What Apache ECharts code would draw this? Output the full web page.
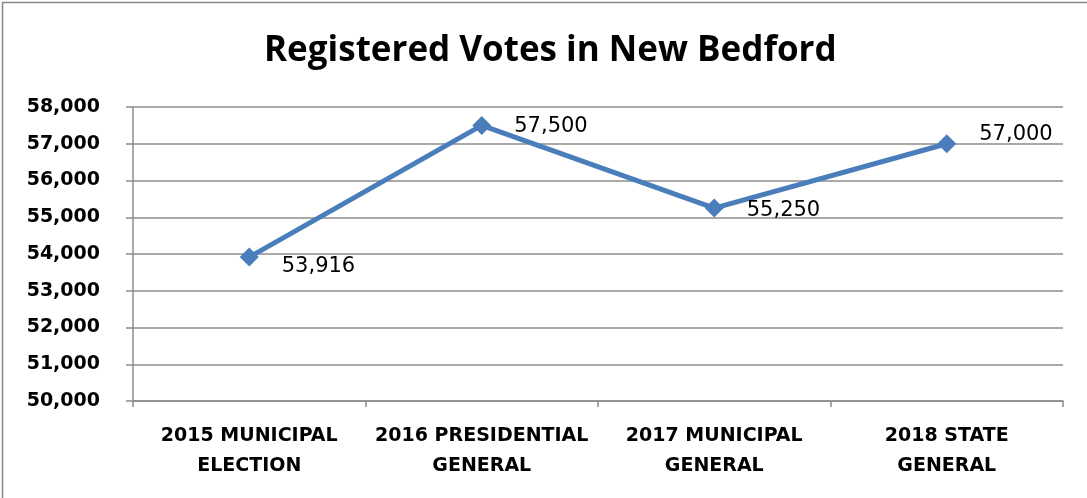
<!DOCTYPE html>
<html>
<head>
<meta charset="utf-8">
<script src="https://cdn.jsdelivr.net/npm/echarts@6/dist/echarts.min.js"></script>
<style>
  html, body { margin: 0; padding: 0; background: #fff; }
  #chart { width: 1087px; height: 498px; }
</style>
</head>
<body>
<div id="chart"></div>
<script>
// Registered voters per election
const categories = [
  '2015 MUNICIPAL\nELECTION',
  '2016 PRESIDENTIAL\nGENERAL',
  '2017 MUNICIPAL\nGENERAL',
  '2018 STATE\nGENERAL'
];
const registered = [53916, 57500, 55250, 57000];
const yTicks = { min: 50000, max: 58000, step: 1000 };

// label nudges (dx, dy) per point, in pixels
const labelNudges = [[0, 9], [0, 1], [0, 2], [0, -9]];

const titleFont = '"Open Sans", Lato, sans-serif';
const axisFont = '"DejaVu Sans", "Open Sans", sans-serif';
const axisGray = '#8c8c8c';

const chart = echarts.init(document.getElementById('chart'), null, { renderer: 'canvas' });

chart.setOption({
  backgroundColor: '#ffffff',
  animation: false,
  title: {
    text: 'Registered Votes in New Bedford',
    left: 259,
    top: 29,
    textStyle: { fontFamily: titleFont, fontWeight: 'bold', fontSize: 35, color: '#000' }
  },
  graphic: [{
    type: 'polyline',
    shape: { points: [[2.5, 498], [2.5, 2.5], [1087, 2.5]] },
    style: { stroke: '#878787', lineWidth: 1.5, fill: null },
    silent: true
  }],
  grid: { left: 133, right: 24, top: 107, bottom: 97, containLabel: false },
  xAxis: {
    type: 'category',
    data: categories,
    boundaryGap: true,
    axisLine: { show: true, lineStyle: { color: axisGray, width: 1.5 } },
    axisTick: { show: true, length: 6, lineStyle: { color: axisGray, width: 1.5 } },
    axisLabel: {
      fontFamily: axisFont, fontWeight: 'bold', fontSize: 19, color: '#000',
      lineHeight: 30, margin: 20, interval: 0
    },
    splitLine: { show: false }
  },
  yAxis: {
    type: 'value',
    min: yTicks.min,
    max: yTicks.max,
    interval: yTicks.step,
    axisLine: { show: true, lineStyle: { color: axisGray, width: 1.5 } },
    axisTick: { show: true, inside: false, length: 7, lineStyle: { color: axisGray, width: 1.5 } },
    axisLabel: {
      fontFamily: axisFont, fontWeight: 'bold', fontSize: 19, color: '#000', margin: 33,
      formatter: v => v.toLocaleString('en-US')
    },
    splitLine: { show: true, lineStyle: { color: axisGray, width: 1.5 } }
  },
  series: [{
    type: 'line',
    data: registered.map((v, i) => ({
      value: v,
      label: { offset: labelNudges[i] }
    })),
    symbol: 'diamond',
    symbolSize: 19,
    lineStyle: { color: '#4a7ebb', width: 5 },
    itemStyle: { color: '#4a7ebb' },
    label: {
      show: true,
      position: 'right',
      distance: 23,
      fontFamily: axisFont, fontSize: 21, color: '#000',
      formatter: p => p.value.toLocaleString('en-US')
    }
  }]
});
</script>
</body>
</html>
